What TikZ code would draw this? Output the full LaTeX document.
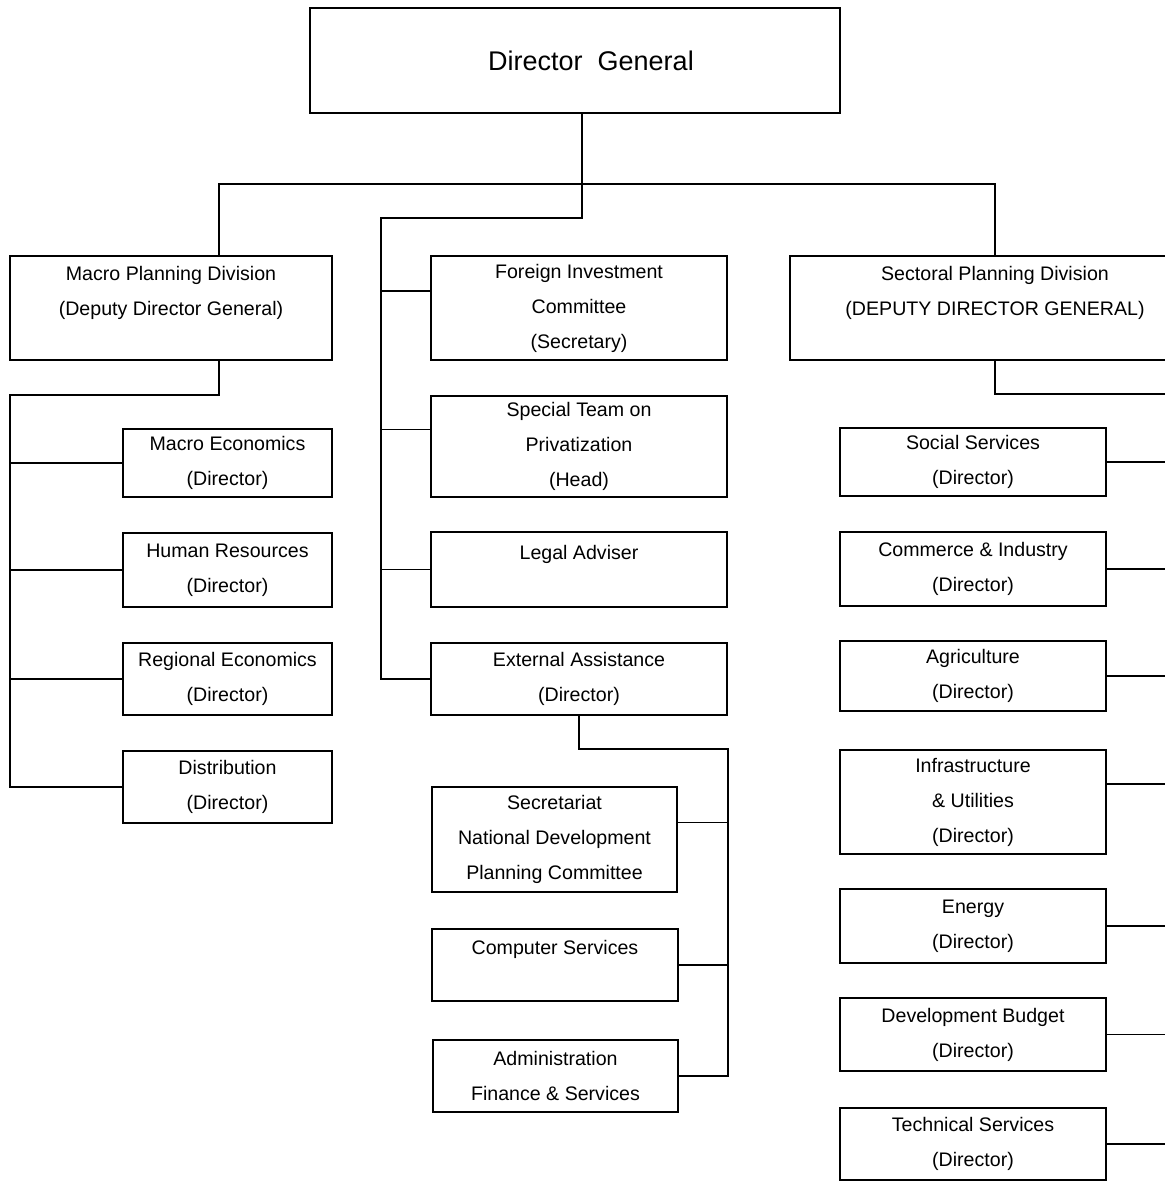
\documentclass[tikz,border=0pt]{standalone}
\usepackage{fontspec}
\setmainfont{Liberation Sans}
\usetikzlibrary{positioning,calc}

\begin{document}
\begin{tikzpicture}[x=0.5pt, y=-0.5pt,
    box/.style={draw, line width=0.8pt, inner sep=0pt, align=center, font=\fontsize{9.8}{17.5}\selectfont},
    link/.style={line width=0.8pt}]
    \useasboundingbox (0,0) rectangle (1165,1183);
    \fill[white] (0,0) rectangle (1165,1183);
    \clip (0,0) rectangle (1165,1183);

    % top
    \node[box, minimum width=265pt, minimum height=52.5pt, font=\fontsize{13.5}{16}\selectfont] (dg) at (575,60.5) {\hspace*{16pt}Director\ \ General};

    % divisions
    \node[box, minimum width=161pt, minimum height=52pt] (macro) at (171,308) {Macro Planning Division\\(Deputy Director General)\\\mbox{}};
    \node[box, minimum width=205pt, minimum height=52pt] (sect) at (995,308) {Sectoral Planning Division\\(DEPUTY DIRECTOR GENERAL)\\\mbox{}};

    % macro side
    \node[box, minimum width=104.5pt, minimum height=34pt] (mecon) at (227.5,463) {Macro Economics\\(Director)};
    \node[box, minimum width=104.5pt, minimum height=37pt] (hres) at (227.5,570) {Human Resources\\(Director)};
    \node[box, minimum width=104.5pt, minimum height=36pt] (regec) at (227.5,679) {Regional Economics\\(Director)};
    \node[box, minimum width=104.5pt, minimum height=36pt] (distr) at (227.5,787) {Distribution\\(Director)};

    % middle column
    \node[box, minimum width=148pt, minimum height=52pt] (fic) at (579,308) {Foreign Investment\\Committee\\(Secretary)};
    \node[box, minimum width=148pt, minimum height=50.5pt] (priv) at (579,446.5) {Special Team on\\Privatization\\(Head)};
    \node[box, minimum width=148pt, minimum height=37.5pt] (legal) at (579,569.5) {Legal Adviser\\\mbox{}};
    \node[box, minimum width=148pt, minimum height=36pt] (extas) at (579,679) {External Assistance\\(Director)};
    \node[box, minimum width=122.5pt, minimum height=52.5pt] (ndpc) at (554.5,839.5) {Secretariat\\National Development\\Planning Committee};
    \node[box, minimum width=123pt, minimum height=36pt] (comp) at (555,965) {Computer Services\\\mbox{}};
    \node[box, minimum width=122.5pt, minimum height=36pt] (admin) at (555.5,1076) {Administration\\Finance \& Services};

    % sectoral side
    \node[box, minimum width=133pt, minimum height=34pt] (socs) at (973,462) {Social Services\\(Director)};
    \node[box, minimum width=133pt, minimum height=37pt] (comm) at (973,569) {Commerce \& Industry\\(Director)};
    \node[box, minimum width=133pt, minimum height=35pt] (agri) at (973,676) {Agriculture\\(Director)};
    \node[box, minimum width=133pt, minimum height=52pt] (infra) at (973,802) {Infrastructure\\\& Utilities\\(Director)};
    \node[box, minimum width=133pt, minimum height=37pt] (energy) at (973,926) {Energy\\(Director)};
    \node[box, minimum width=133pt, minimum height=36.5pt] (budget) at (973,1034.5) {Development Budget\\(Director)};
    \node[box, minimum width=133pt, minimum height=36pt] (techs) at (973,1144) {Technical Services\\(Director)};

    \coordinate (hbus) at (582,184);
    \coordinate (mstem) at (219,184);
    \coordinate (mbend) at (582,218);
    \coordinate (mbus) at (381,218);
    \coordinate (lbus) at (10,395);
    \coordinate (ebus) at (728,749);
    \coordinate (rbus) at (1165,394);

    % main tree
    \draw[link] (macro.north -| mstem) -- (mstem) -- (hbus) -| (sect.north);
    \draw[link] (dg.south -| hbus) -- (mbend) -| (mbus |- extas.west) -- (extas.west);
    \draw[link] ([yshift=8.5pt]fic.west) -- ([yshift=8.5pt]fic.west -| mbus);
    \draw[link] ([yshift=8.5pt]priv.west) -- ([yshift=8.5pt]priv.west -| mbus);
    \draw[link] (legal.west) -- (legal.west -| mbus);

    % macro branch
    \draw[link] (macro.south -| mstem) |- (lbus) -- (lbus |- distr.west) -- (distr.west);
    \foreach \n in {mecon,hres,regec}
        \draw[link] (\n.west) -- (\n.west -| lbus);

    % external assistance branch
    \draw[link] (extas.south) |- (ebus) -- (ebus |- admin.east) -- (admin.east);
    \draw[link] ([yshift=8.5pt]ndpc.east) -- ([yshift=8.5pt]ndpc.east -| ebus);
    \draw[link] (comp.east) -- (comp.east -| ebus);

    % sectoral branch
    \draw[link] (sect.south) |- (rbus);
    \foreach \n in {socs,comm,agri,energy,budget,techs}
        \draw[link] (\n.east) -- (\n.east -| rbus);
    \draw[link] ([yshift=9pt]infra.east) -- ([yshift=9pt]infra.east -| rbus);
\end{tikzpicture}
\end{document}
